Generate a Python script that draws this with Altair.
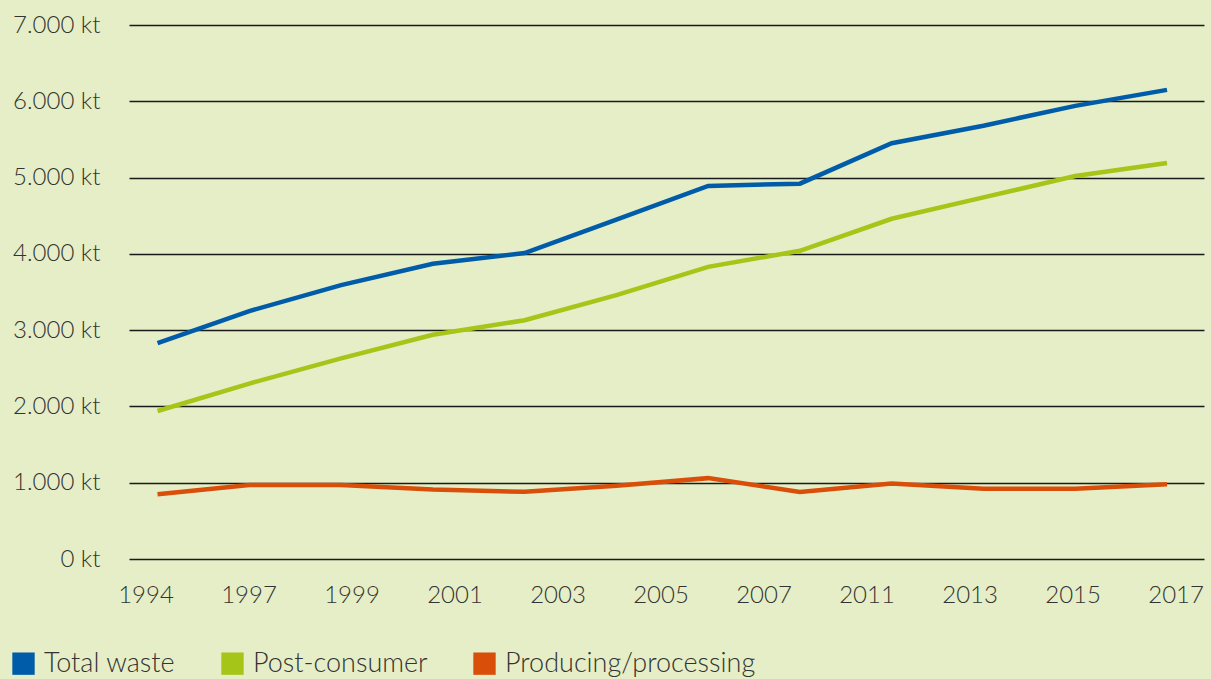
import altair as alt
import pandas as pd

# ---- data ----
year_labels = ["1994", "1997", "1999", "2001", "2003", "2005", "2007", "2011", "2013", "2015", "2017"]
point_index = list(range(12))
total_waste = [2830, 3250, 3590, 3870, 4010, 4450, 4890, 4920, 5450, 5680, 5940, 6150]
post_consumer = [1940, 2300, 2630, 2940, 3130, 3460, 3830, 4040, 4460, 4740, 5020, 5190]
producing = [850, 970, 970, 910, 880, 960, 1060, 880, 990, 920, 920, 980]
series_names = ["Total waste", "Post-consumer", "Producing/processing"]
series_colors = ["#005ca9", "#a5c518", "#d94f0a"]

rows = []
for name, vals in zip(series_names, [total_waste, post_consumer, producing]):
    for i, v in zip(point_index, vals):
        rows.append({"idx": i, "value": v, "series": name})
df = pd.DataFrame(rows)
df_labels = pd.DataFrame({"year": year_labels})

FONT = "Lato"
TEXT = "#333333"
FS = 24

lines = alt.Chart(df).mark_line(strokeWidth=4.5, strokeCap="butt").encode(
    x=alt.X("idx:Q", axis=None, scale=alt.Scale(domain=[-0.311, 11.403], nice=False, zero=False)),
    y=alt.Y(
        "value:Q",
        scale=alt.Scale(domain=[0, 7000], nice=False),
        axis=alt.Axis(
            values=[0, 1000, 2000, 3000, 4000, 5000, 6000, 7000],
            labelExpr="replace(format(datum.value, ',d'), ',', '.') + ' kt'",
            title=None,
            ticks=False,
            domain=False,
            grid=True,
            gridColor="#1a1a1a",
            gridWidth=1.3,
            labelPadding=29,
            labelFont=FONT,
            labelFontSize=FS,
            labelFontWeight=300,
            labelColor=TEXT,
        ),
    ),
    color=alt.Color(
        "series:N",
        scale=alt.Scale(domain=series_names, range=series_colors),
        legend=alt.Legend(
            title=None,
            orient="none",
            legendX=-119,
            legendY=625,
            direction="horizontal",
            columns=3,
            columnPadding=24,
            symbolType="square",
            symbolSize=70,
            symbolStrokeWidth=14,
            symbolOpacity=1,
            labelFont=FONT,
            labelFontSize=27,
            labelFontWeight=300,
            labelColor=TEXT,
            labelOffset=7,
            labelLimit=400,
        ),
    ),
)

xlabels = alt.Chart(df_labels).mark_point(opacity=0).encode(
    x=alt.X(
        "year:O",
        sort=year_labels,
        scale=alt.Scale(type="point", padding=0.218, align=0.367),
        axis=alt.Axis(
            title=None,
            ticks=False,
            domain=False,
            grid=False,
            labelAngle=0,
            labelPadding=24,
            labelFont=FONT,
            labelFontSize=FS,
            labelFontWeight=300,
            labelColor=TEXT,
        ),
    ),
)

chart = (
    alt.layer(lines, xlabels)
    .resolve_scale(x="independent")
    .properties(
        width=1075,
        height=534,
        autosize=alt.AutoSizeParams(type="none"),
        padding={"left": 129, "top": 25, "right": 7, "bottom": 120},
        background="#e5eec6",
    )
    .configure_view(stroke=None)
)

chart.save("out.html", embed_options={"renderer": "svg", "actions": False})
